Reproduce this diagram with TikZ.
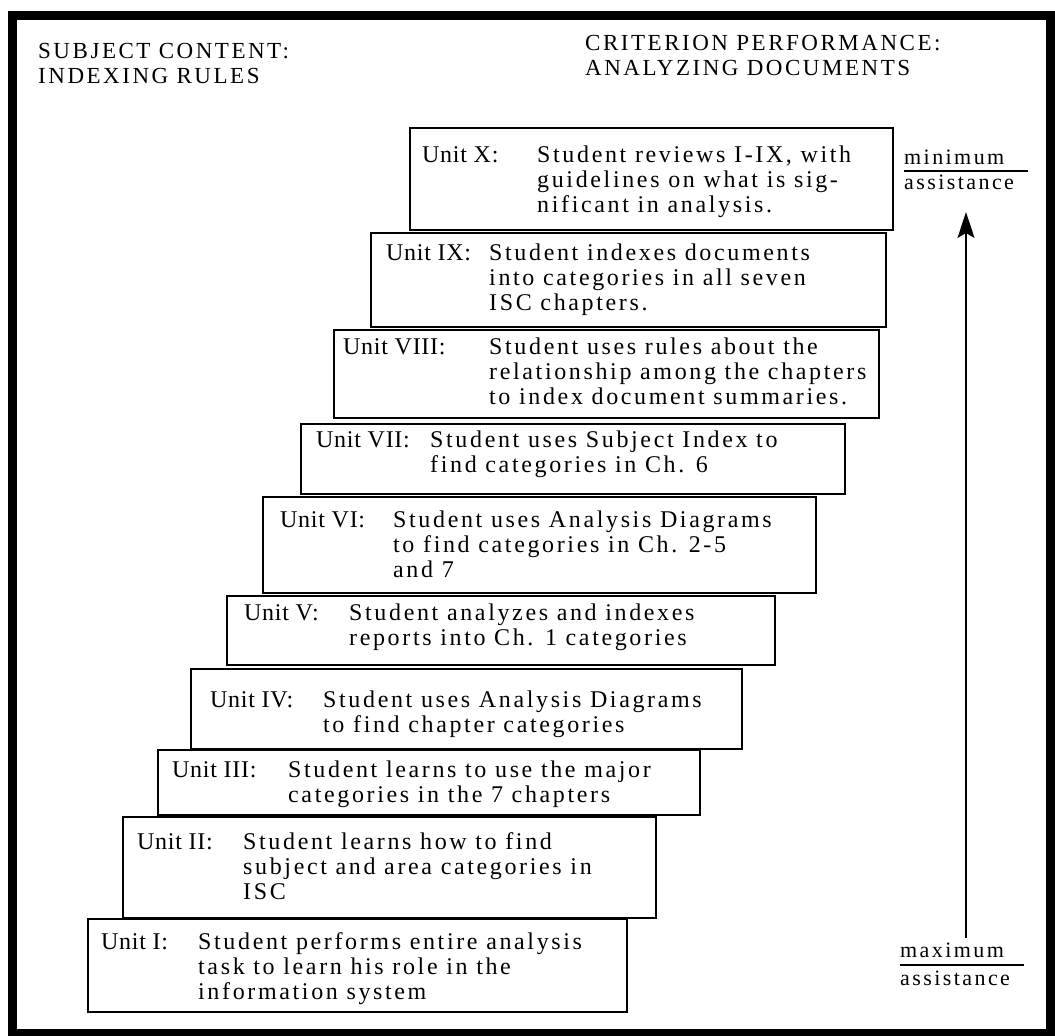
\documentclass[tikz,border=0pt]{standalone}
\usepackage{fontspec}
\usepackage{array}
\setmainfont{Liberation Serif}
\newfontfamily\typefont[LetterSpace=11]{Liberation Serif}
\newfontfamily\labfont[LetterSpace=3]{Liberation Serif}
\newfontfamily\headfont[LetterSpace=11]{Liberation Serif}
\usetikzlibrary{arrows.meta}
% #1 name, #2 left, #3 top, #4 right, #5 bottom, #6 label x, #7 label column width, #8 first baseline, #9 rows
\newcommand\unitstep[9]{%
  \node[unitbox, minimum width={(#4-#2)*1pt}, minimum height={(#5-#3)*1pt}] (#1) at (#2,#3) {};
  \node[unittext] (#1t) at (#6,#8) {\begin{tabular}[t]{@{}>{\labfont}p{#7pt}@{}l@{}}#9\end{tabular}};
}
\begin{document}
\begin{tikzpicture}[x=1pt,y=-1pt,
  unitbox/.style={draw, line width=1.4pt, anchor=north west, inner sep=0pt, outer sep=0pt},
  unittext/.style={anchor=base west, inner sep=0pt, font=\typefont\fontsize{24}{25}\selectfont},
  header/.style={anchor=base west, inner sep=0pt, font=\headfont\fontsize{23}{25}\selectfont},
  asst/.style={anchor=base west, inner sep=0pt, font=\typefont\fontsize{22}{24}\selectfont},
  rule/.style={line width=1.3pt},
  frame/.style={line width=9pt}]
\useasboundingbox (0,0) rectangle (1055,1036);
\draw[frame] (12,15) rectangle (1050,1033);

\node[header] (h1) at (38,58) {SUBJECT CONTENT:};
\node[header] (h2) at (38,83) {INDEXING RULES};
\node[header] (h3) at (585,50) {CRITERION PERFORMANCE:};
\node[header] (h4) at (585,75) {ANALYZING DOCUMENTS};

\unitstep{uX}{410}{128}{893}{230}{422}{115}{162}{Unit X: & Student reviews I-IX, with\\ & guidelines on what is sig-\\ & nificant in analysis.}
\unitstep{uIX}{371}{233}{886}{327}{386}{103}{260}{Unit IX: & Student indexes documents\\ & into categories in all seven\\ & ISC chapters.}
\unitstep{uVIII}{334}{330}{879}{418}{343}{146}{354}{Unit VIII: & Student uses rules about the\\ & relationship among the chapters\\ & to index document summaries.}
\unitstep{uVII}{301}{424}{845}{494}{316}{114}{447}{Unit VII: & Student uses Subject Index to\\ & find categories in Ch. 6}
\unitstep{uVI}{263}{497}{816}{593}{280}{113}{527}{Unit VI: & Student uses Analysis Diagrams\\ & to find categories in Ch. 2-5\\ & and 7}
\unitstep{uV}{227}{596}{775}{665}{244}{105}{620}{Unit V: & Student analyzes and indexes\\ & reports into Ch. 1 categories}
\unitstep{uIV}{191}{669}{742}{749}{210}{113}{707}{Unit IV: & Student uses Analysis Diagrams\\ & to find chapter categories}
\unitstep{uIII}{158}{750}{700}{815}{172}{116}{777}{Unit III: & Student learns to use the major\\ & categories in the 7 chapters}
\unitstep{uII}{123}{817}{656}{918}{137}{106}{849}{Unit II: & Student learns how to find\\ & subject and area categories in\\ & ISC}
\unitstep{uI}{88}{919}{627}{1012}{101}{97}{949}{Unit I: & Student performs entire analysis\\ & task to learn his role in the\\ & information system}

\node[asst] (minw) at (904,164) {minimum};
\node[asst] (mina) at (904,189) {assistance};
\draw[rule] (904,171) -- (1028,171);

\node[asst] (maxw) at (900,957) {maximum};
\node[asst] (maxa) at (900,985) {assistance};
\draw[rule] (900,965) -- (1024,965);

\coordinate (abot) at (966,938);
\coordinate (atop) at (966,212);
\draw[line width=1.5pt, -{Stealth[length=26pt,width=17pt,inset=5pt]}] (abot) -- (atop);
\end{tikzpicture}
\end{document}
